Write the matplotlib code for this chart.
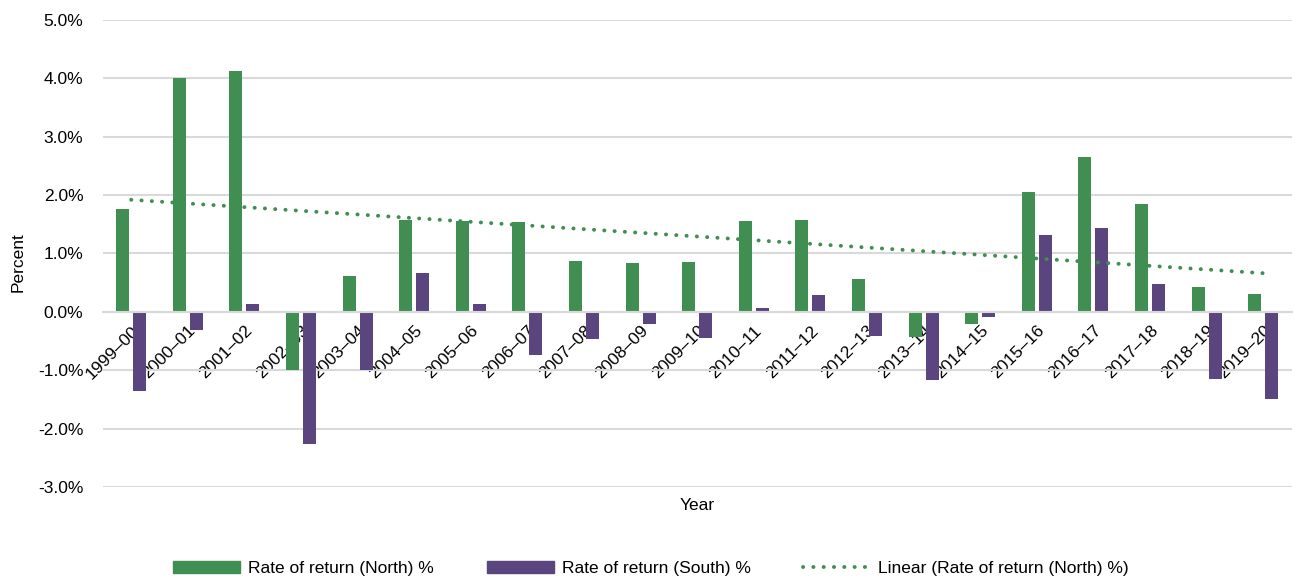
import numpy as np
import matplotlib.pyplot as plt
from matplotlib.patches import Patch
from matplotlib.lines import Line2D
from matplotlib.ticker import PercentFormatter

plt.rcParams['font.family'] = ['Liberation Sans', 'DejaVu Sans']
plt.rcParams['axes.unicode_minus'] = False

years = ['1999–00', '2000–01', '2001–02', '2002–03', '2003–04', '2004–05', '2005–06',
         '2006–07', '2007–08', '2008–09', '2009–10', '2010–11', '2011–12', '2012–13',
         '2013–14', '2014–15', '2015–16', '2016–17', '2017–18', '2018–19', '2019–20']
north = [1.77, 4.00, 4.12, -1.00, 0.62, 1.58, 1.56, 1.54, 0.87, 0.84, 0.86,
         1.56, 1.58, 0.56, -0.43, -0.21, 2.06, 2.66, 1.84, 0.43, 0.31]
south = [-1.36, -0.31, 0.13, -2.26, -1.00, 0.67, 0.13, -0.74, -0.46, -0.21, -0.45,
         0.06, 0.29, -0.41, -1.16, -0.08, 1.31, 1.43, 0.48, -1.15, -1.50]

green = '#418E52'
purple = '#5B457F'
fs = 12.5

x = np.arange(len(years))
# linear trendline of the North series
slope, icpt = np.polyfit(x, north, 1)
trend = slope * x + icpt

fig = plt.figure(figsize=(13.02, 5.81), dpi=100)
ax = fig.add_axes([0.079, 0.1618, 0.913, 0.8038])

ax.set_axisbelow(True)
ax.yaxis.grid(True, color='#D9D9D9', linewidth=1.5)
ax.bar(x - 0.15, north, width=0.23, color=green, zorder=2)
ax.bar(x + 0.15, south, width=0.23, color=purple, zorder=2)
ax.plot(x, trend, color=green, linewidth=2.8, linestyle=(0, (0.05, 2.6)),
        dash_capstyle='round', zorder=3)

ax.set_xlim(-0.5, len(years) - 0.5)
ax.set_ylim(-3, 5)
ax.set_yticks(np.arange(-3, 5.1, 1))
ax.yaxis.set_major_formatter(PercentFormatter(decimals=1))

for s in ['top', 'right', 'left']:
    ax.spines[s].set_visible(False)
ax.spines['bottom'].set_position(('data', 0))
ax.spines['bottom'].set_color('#D9D9D9')
ax.spines['bottom'].set_linewidth(1.5)

ax.set_xticks(x)
ax.set_xticklabels(years, rotation=45, ha='right', va='top', rotation_mode='anchor')
ax.tick_params(axis='both', length=0, labelsize=fs, labelcolor='black')
ax.tick_params(axis='x', pad=8)
ax.tick_params(axis='y', pad=14)

fig.text(18 / 1302, 1 - 262 / 581, 'Percent', rotation=90, ha='center', va='center', fontsize=fs)
ax.text(0.5, -0.04, 'Year', transform=ax.transAxes, ha='center', va='center', fontsize=fs)

handles = [Patch(color=green, label='Rate of return (North) %'),
           Patch(color=purple, label='Rate of return (South) %'),
           Line2D([0], [0], color=green, linewidth=2.8, linestyle=(0, (0.05, 2.6)),
                  dash_capstyle='round', label='Linear (Rate of return (North) %)')]
fig.legend(handles=handles, loc='center', bbox_to_anchor=(0.5, 0.022), ncol=3,
           frameon=False, fontsize=fs, handlelength=3.85, handleheight=0.7,
           columnspacing=3.05, handletextpad=0.46)

fig.savefig('out.png', dpi=100)
